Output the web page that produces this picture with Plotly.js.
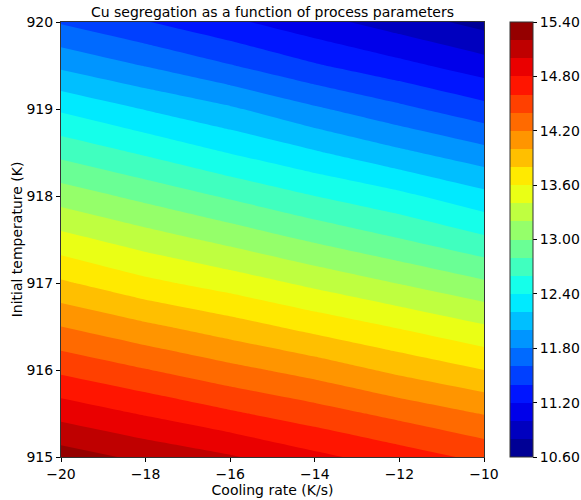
<!DOCTYPE html>
<html>
<head>
<meta charset="utf-8">
<script src="https://cdn.plot.ly/plotly-3.0.1.min.js"></script>
<style>
  html, body { margin: 0; padding: 0; background: #ffffff; }
  #chart { width: 581px; height: 500px; }
</style>
</head>
<body>
<div id="chart"></div>
<script>
// Cooling rate (K/s) along x, initial temperature (K) along y
const coolingRate = [-20, -18, -16, -14, -12, -10];
const initialTemp = [915, 915.5, 916, 916.5, 917, 917.5, 918, 918.5, 919, 919.5, 920];

// Cu segregation, one row per initial temperature
const cuSegregation = [
  [15.30, 15.15, 15.02, 14.85, 14.70, 14.55],
  [14.93, 14.78, 14.63, 14.49, 14.34, 14.19],
  [14.56, 14.41, 14.26, 14.12, 13.95, 13.80],
  [14.20, 14.04, 13.89, 13.73, 13.58, 13.42],
  [13.83, 13.65, 13.51, 13.35, 13.19, 13.03],
  [13.47, 13.30, 13.14, 12.97, 12.81, 12.64],
  [13.11, 12.94, 12.77, 12.60, 12.45, 12.26],
  [12.74, 12.57, 12.39, 12.22, 12.04, 11.87],
  [12.37, 12.19, 12.03, 11.83, 11.65, 11.47],
  [11.96, 11.79, 11.61, 11.42, 11.26, 11.09],
  [11.58, 11.41, 11.24, 11.07, 10.90, 10.73]
];

// Filled contour levels and colour bar ticks
const levelStart = 10.6;
const levelEnd = 15.4;
const levelStep = 0.2;
const colorbarTicks = [10.6, 11.2, 11.8, 12.4, 13.0, 13.6, 14.2, 14.8, 15.4];

// Classic "jet" colour map
function jet(t) {
  const c = v => Math.max(0, Math.min(1, v));
  const r = c(1.5 - Math.abs(4 * t - 3));
  const g = c(1.5 - Math.abs(4 * t - 2));
  const b = c(1.5 - Math.abs(4 * t - 1));
  return 'rgb(' + Math.round(r * 255) + ',' + Math.round(g * 255) + ',' + Math.round(b * 255) + ')';
}

// One flat colour per band, sampled at the band's midpoint.
// Plotly spreads the scale over [start - step/2, end + step/2].
const nBands = Math.round((levelEnd - levelStart) / levelStep);
const scaleLo = levelStart - levelStep / 2;
const scaleHi = levelEnd + levelStep / 2;
const pos = v => (v - scaleLo) / (scaleHi - scaleLo);
const colorscale = [];
for (let k = 0; k < nBands; k++) {
  const lo = levelStart + k * levelStep;
  const hi = lo + levelStep;
  const mid = (lo + hi) / 2;
  const col = jet((mid - levelStart) / (levelEnd - levelStart));
  const p0 = k === 0 ? 0 : pos(lo);
  const p1 = k === nBands - 1 ? 1 : pos(hi);
  colorscale.push([p0, col]);
  colorscale.push([p1, col]);
}

const font = { family: 'DejaVu Sans, sans-serif', size: 14, color: '#000000' };

const trace = {
  type: 'contour',
  x: coolingRate,
  y: initialTemp,
  z: cuSegregation,
  autocontour: false,
  contours: {
    start: levelStart,
    end: levelEnd,
    size: levelStep,
    coloring: 'fill',
    showlines: false
  },
  line: { width: 0, smoothing: 0 },
  zauto: false,
  zmin: levelStart,
  zmax: levelEnd,
  colorscale: colorscale,
  colorbar: {
    thickness: 23,
    thicknessmode: 'pixels',
    len: 1,
    lenmode: 'fraction',
    x: (510 - 61) / 423,
    xanchor: 'left',
    xpad: 0,
    y: 0.5,
    yanchor: 'middle',
    ypad: 0,
    outlinewidth: 1,
    outlinecolor: '#333333',
    tickmode: 'array',
    tickvals: colorbarTicks,
    ticktext: colorbarTicks.map(v => v.toFixed(2)),
    ticks: 'outside',
    ticklen: 4,
    tickcolor: '#000000',
    tickfont: font
  },
  hoverinfo: 'x+y+z'
};

const axisStyle = {
  showgrid: false,
  zeroline: false,
  showline: true,
  mirror: true,
  linecolor: '#333333',
  linewidth: 1,
  ticks: 'outside',
  ticklen: 4,
  tickcolor: '#000000',
  tickfont: font
};

const layout = {
  width: 581,
  height: 500,
  margin: { l: 61, r: 97, t: 22, b: 43, autoexpand: false },
  paper_bgcolor: '#ffffff',
  plot_bgcolor: '#ffffff',
  font: font,
  title: {
    text: 'Cu segregation as a function of process parameters',
    font: font,
    x: 0.5,
    xref: 'paper',
    xanchor: 'center',
    y: 1 - 12 / 500,
    yref: 'container',
    yanchor: 'middle'
  },
  xaxis: Object.assign({}, axisStyle, {
    range: [-20, -10],
    tickmode: 'linear',
    tick0: -20,
    dtick: 2,
    title: { text: 'Cooling rate (K/s)', font: font, standoff: 0 }
  }),
  yaxis: Object.assign({}, axisStyle, {
    range: [915, 920],
    tickmode: 'linear',
    tick0: 915,
    dtick: 1,
    title: { text: 'Initial temperature (K)', font: font, standoff: 0 }
  })
};

Plotly.newPlot('chart', [trace], layout, { displayModeBar: false, staticPlot: true });
</script>
</body>
</html>
